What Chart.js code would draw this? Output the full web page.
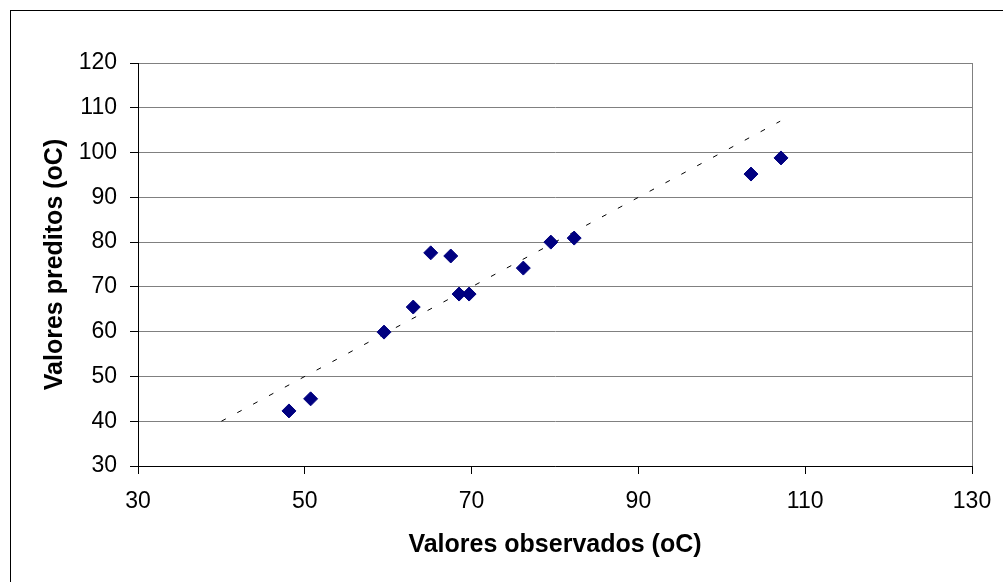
<!DOCTYPE html>
<html>
<head>
<meta charset="utf-8">
<script src="https://cdn.jsdelivr.net/npm/chart.js@4/dist/chart.umd.min.js"></script>
<style>
  html, body { margin: 0; padding: 0; background: #fff; }
  #wrap { position: relative; width: 1003px; height: 582px; overflow: hidden; }
  #frame { position: absolute; left: 10px; top: 10px; width: 1200px; height: 800px;
           border-left: 1px solid #000; border-top: 1px solid #000; }
  canvas { position: absolute; left: 0; top: 0; }
</style>
</head>
<body>
<div id="wrap">
  <div id="frame"></div>
  <canvas id="c" width="1003" height="582"></canvas>
</div>
<script>
// Observed vs predicted temperatures (oC)
const observed  = [48.1, 50.7, 59.5, 63.0, 65.1, 67.5, 68.5, 69.7, 76.2, 79.5, 82.3, 103.5, 107.1];
const predicted = [42.3, 45.0, 59.9, 65.5, 77.6, 76.9, 68.4, 68.4, 74.2, 80.0, 80.9, 95.2, 98.8];
// 1:1 reference line endpoints
const refX = [40, 107];
const refY = [40, 107];

const xTicks = [30, 50, 70, 90, 110, 130];
const yTicks = [30, 40, 50, 60, 70, 80, 90, 100, 110, 120];

const FONT = 'Liberation Sans, Arial, sans-serif';

// thin grey border on the right edge of the plot area
const plotFrame = {
  id: 'plotFrame',
  afterDraw(chart) {
    const { ctx, chartArea: a } = chart;
    ctx.save();
    ctx.strokeStyle = '#808080';
    ctx.lineWidth = 1;
    ctx.beginPath();
    ctx.moveTo(Math.round(a.right) + 0.5, a.top);
    ctx.lineTo(Math.round(a.right) + 0.5, a.bottom);
    ctx.stroke();
    ctx.restore();
  }
};

new Chart(document.getElementById('c'), {
  type: 'scatter',
  data: {
    datasets: [
      {
        data: refX.map((x, i) => ({ x, y: refY[i] })),
        showLine: true,
        borderColor: '#000',
        borderWidth: 1,
        borderDash: [5, 13],
        pointRadius: 0,
        order: 2
      },
      {
        data: observed.map((x, i) => ({ x, y: predicted[i] })),
        pointStyle: 'rectRot',
        pointRadius: 7,
        pointBackgroundColor: '#000080',
        pointBorderColor: '#000080',
        pointBorderWidth: 1,
        order: 1
      }
    ]
  },
  options: {
    responsive: false,
    animation: false,
    events: [],
    layout: { padding: { left: 0, top: 63, right: 31, bottom: 0 } },
    plugins: { legend: { display: false }, tooltip: { enabled: false } },
    scales: {
      x: {
        type: 'linear',
        min: 30, max: 130,
        afterBuildTicks: s => { s.ticks = xTicks.map(v => ({ value: v })); },
        afterFit: s => { s.height = 116; s.paddingLeft = 0; s.paddingRight = 0; },
        grid: { drawOnChartArea: false, drawTicks: true, tickLength: 8, color: '#000' },
        border: { color: '#000', width: 1 },
        ticks: { color: '#000', font: { family: FONT, size: 23 }, padding: 14, maxRotation: 0 },
        title: { display: true, text: 'Valores observados (oC)', color: '#000',
                 font: { family: FONT, size: 25, weight: 'bold' }, padding: { top: 0, bottom: 22 } }
      },
      y: {
        type: 'linear',
        min: 30, max: 120,
        afterBuildTicks: s => { s.ticks = yTicks.map(v => ({ value: v })); },
        afterFit: s => { s.width = 138; s.paddingTop = 0; s.paddingBottom = 0; },
        grid: { drawOnChartArea: true, drawTicks: true, tickLength: 8, color: '#808080', tickColor: '#000' },
        border: { color: '#000', width: 1 },
        ticks: { color: '#000', font: { family: FONT, size: 23 }, padding: 13 },
        title: { display: true, text: 'Valores preditos (oC)', color: '#000',
                 font: { family: FONT, size: 25, weight: 'bold' }, padding: { top: 40, bottom: 0 } }
      }
    }
  },
  plugins: [plotFrame]
});
</script>
</body>
</html>
